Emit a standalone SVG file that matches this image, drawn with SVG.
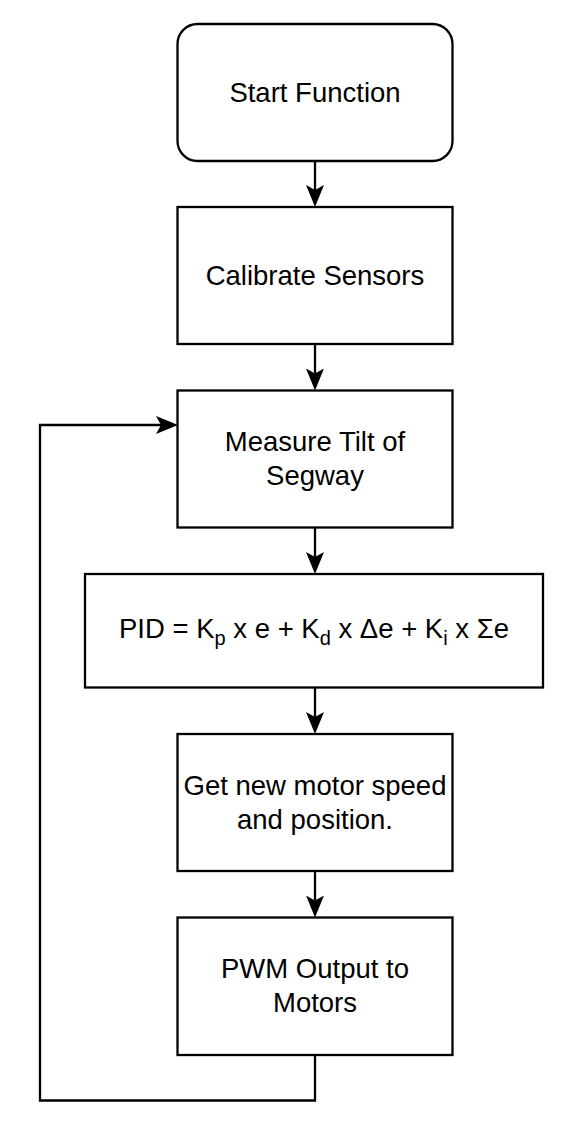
<svg xmlns="http://www.w3.org/2000/svg" width="570" height="1146" viewBox="0 0 570 1146">
<style>
.box{fill:#ffffff;stroke:#000000;stroke-width:2.3}
.edge{fill:none;stroke:#000000;stroke-width:2.3}
text{font-family:"Liberation Sans",Arial,Helvetica,sans-serif;font-size:27.5px;fill:#000000;text-anchor:middle}
.sub{font-size:20px}
</style>
<defs>
<marker id="arr" viewBox="0 0 22 18" refX="5" refY="9" markerWidth="22" markerHeight="18" markerUnits="userSpaceOnUse" orient="auto">
<path d="M0,0 L22,9 L0,18 L5,9 Z" fill="#000000"/>
</marker>
</defs>
<rect x="0" y="0" width="570" height="1146" fill="#ffffff"/>
<g id="connectors">
<path class="edge" d="M315,161 V190" marker-end="url(#arr)"/>
<path class="edge" d="M315,344 V373.5" marker-end="url(#arr)"/>
<path class="edge" d="M315,527.5 V557" marker-end="url(#arr)"/>
<path class="edge" d="M315,687.5 V717" marker-end="url(#arr)"/>
<path class="edge" d="M315,871 V900.5" marker-end="url(#arr)"/>
<path class="edge" d="M315,1055 V1100.5 H40 V425 H161" marker-end="url(#arr)"/>
</g>
<g id="start">
<rect class="box" x="177.5" y="24" width="275" height="137" rx="20" ry="20"/>
<text x="315" y="101.5">Start Function</text>
</g>
<g id="calibrate">
<rect class="box" x="177.5" y="207" width="275" height="137"/>
<text x="315" y="284.5">Calibrate Sensors</text>
</g>
<g id="measure">
<rect class="box" x="177.5" y="390.5" width="275" height="137"/>
<text x="315" y="451">Measure Tilt of</text>
<text x="315" y="485">Segway</text>
</g>
<g id="pid">
<rect class="box" x="85" y="574" width="458" height="113.5"/>
<text x="314" y="637.5">PID = K<tspan class="sub" dy="7">p</tspan><tspan dy="-7"> x e + K</tspan><tspan class="sub" dy="7">d</tspan><tspan dy="-7"> x Δe + K</tspan><tspan class="sub" dy="7">i</tspan><tspan dy="-7"> x Σe</tspan></text>
</g>
<g id="getspeed">
<rect class="box" x="177.5" y="734" width="275" height="137"/>
<text x="315" y="795">Get new motor speed</text>
<text x="315" y="829">and position.</text>
</g>
<g id="pwm">
<rect class="box" x="177.5" y="917.5" width="275" height="137.5"/>
<text x="315" y="978">PWM Output to</text>
<text x="315" y="1012">Motors</text>
</g>
</svg>
